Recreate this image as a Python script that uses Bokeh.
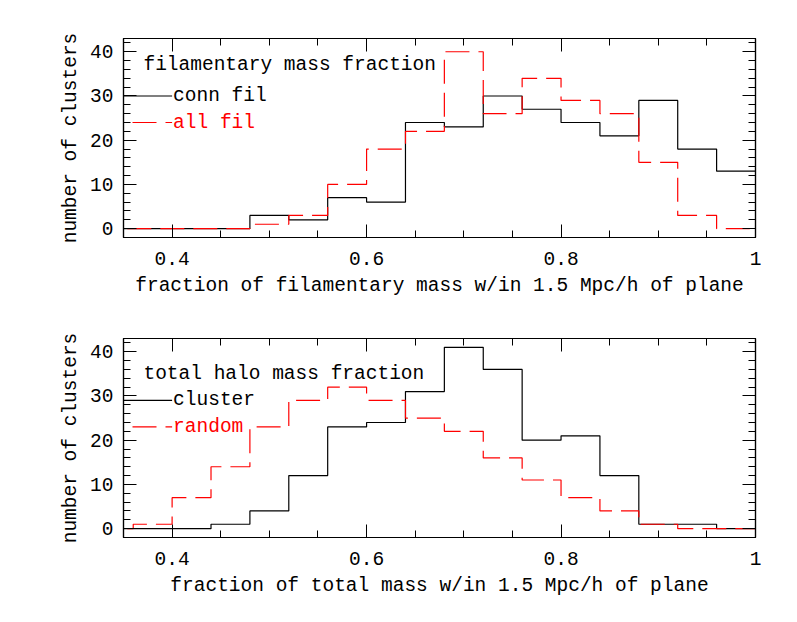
from bokeh.plotting import figure
from bokeh.layouts import column
from bokeh.models import FixedTicker, LinearAxis, Label, Arrow, Range1d
from bokeh.embed import file_html
from bokeh.resources import INLINE

# ---------------- data ----------------
bin_left = [0.32, 0.36, 0.40, 0.44, 0.48, 0.52, 0.56, 0.60, 0.64,
            0.68, 0.72, 0.76, 0.80, 0.84, 0.88, 0.92, 0.96]
bin_end = 1.0

conn_fil = [0, 0, 0, 0, 3, 2, 7, 6, 24, 23, 30, 27, 24, 21, 29, 18, 13]
all_fil = [0, 0, 0, 0, 1, 3, 10, 18, 22, 40, 26, 34, 29, 26, 15, 3, 0]
cluster = [0, 0, 0, 1, 4, 12, 23, 24, 31, 41, 36, 20, 21, 12, 1, 1, 0]
random_halo = [0, 1, 7, 14, 23, 29, 32, 29, 25, 22, 16, 11, 7, 4, 1, 0, 0]

x_tick_values = [0.4, 0.6, 0.8, 1.0]
x_tick_labels = ["0.4", "0.6", "0.8", "1"]
y_tick_values = [0, 10, 20, 30, 40]
y_tick_labels = ["0", "10", "20", "30", "40"]

top_xlabel = "fraction of filamentary mass w/in 1.5 Mpc/h of plane"
bot_xlabel = "fraction of total mass w/in 1.5 Mpc/h of plane"
ylabel = "number of clusters"

top_title = "filamentary mass fraction"
top_names = ["conn fil", "all fil"]
bot_title = "total halo mass fraction"
bot_names = ["cluster", "random"]

FONT = "Liberation Mono"
FS = "19.5px"
RED = "#ff0000"
DASH = "24 9"


def step_xy(vals):
    xs = list(bin_left) + [bin_end]
    ys = list(vals) + [vals[-1]]
    return xs, ys


def make_panel(xlabel, series_black, series_red, title, names, title_y, item_y, top_border):
    p = figure(x_range=Range1d(0.35, 1.0), y_range=Range1d(-2, 43),
               frame_width=632, frame_height=199,
               min_border_left=123, min_border_right=34,
               min_border_top=top_border, min_border_bottom=71,
               output_backend="svg", toolbar_location=None,
               x_axis_label=xlabel, y_axis_label=ylabel)
    p.xgrid.visible = False
    p.ygrid.visible = False
    p.outline_line_color = "black"
    p.outline_line_width = 1.2
    p.background_fill_color = "white"
    p.border_fill_color = "white"

    x_minor = [round(0.35 + 0.05 * i, 2) for i in range(14)]
    y_minor = list(range(-2, 43, 2))
    xt = FixedTicker(ticks=x_tick_values, minor_ticks=x_minor)
    yt = FixedTicker(ticks=y_tick_values, minor_ticks=y_minor)

    def style(ax, show):
        ax.axis_line_color = "black"
        ax.axis_line_width = 1.2
        ax.major_tick_in = 13
        ax.major_tick_out = 0
        ax.minor_tick_in = 7
        ax.minor_tick_out = 0
        ax.major_tick_line_color = "black"
        ax.minor_tick_line_color = "black"
        ax.major_tick_line_width = 1
        ax.minor_tick_line_width = 1
        if show:
            ax.major_label_text_font = FONT
            ax.major_label_text_font_size = FS
            ax.major_label_text_color = "black"
            ax.axis_label_text_font = FONT
            ax.axis_label_text_font_size = FS
            ax.axis_label_text_font_style = "normal"
            ax.axis_label_text_color = "black"
        else:
            ax.major_label_text_font_size = "1px"
            ax.major_label_text_color = None
            ax.axis_label = None

    xa = p.xaxis[0]
    xa.ticker = xt
    xa.major_label_overrides = {v: l for v, l in zip(x_tick_values, x_tick_labels)}
    style(xa, True)
    xa.major_label_standoff = 14
    xa.axis_label_standoff = 7

    ya = p.yaxis[0]
    ya.ticker = yt
    ya.major_label_overrides = {v: l for v, l in zip(y_tick_values, y_tick_labels)}
    style(ya, True)
    ya.major_label_standoff = 10
    ya.axis_label_standoff = 5

    ra = LinearAxis(ticker=FixedTicker(ticks=y_tick_values, minor_ticks=y_minor))
    style(ra, False)
    p.add_layout(ra, "right")
    aa = LinearAxis(ticker=FixedTicker(ticks=x_tick_values, minor_ticks=x_minor))
    style(aa, False)
    p.add_layout(aa, "above")

    bx, by = step_xy(series_black)
    p.step(bx, by, mode="after", line_color="black", line_width=1.2)
    rx, ry = step_xy(series_red)
    p.step(rx, ry, mode="after", line_color=RED, line_width=1.2, line_dash=DASH)

    # legend
    p.add_layout(Label(x=0.3705, y=title_y, text=title, text_font=FONT,
                       text_font_size=FS, text_color="black",
                       text_baseline="alphabetic", text_align="left"))
    p.add_layout(Arrow(end=None, x_start=0.35, y_start=item_y[0], x_end=0.40,
                       y_end=item_y[0], line_color="black", line_width=1.2))
    p.add_layout(Label(x=0.401, y=item_y[0], text=names[0], text_font=FONT,
                       text_font_size=FS, text_color="black",
                       text_baseline="alphabetic", text_align="left"))
    p.add_layout(Arrow(end=None, x_start=0.35, y_start=item_y[1], x_end=0.40,
                       y_end=item_y[1], line_color=RED, line_width=1.2,
                       line_dash=DASH, line_dash_offset=24))
    p.add_layout(Label(x=0.401, y=item_y[1], text=names[1], text_font=FONT,
                       text_font_size=FS, text_color=RED,
                       text_baseline="alphabetic", text_align="left"))
    return p


p1 = make_panel(top_xlabel, conn_fil, all_fil, top_title, top_names, 37, [30, 24], 38)
p2 = make_panel(bot_xlabel, cluster, random_halo, bot_title, bot_names, 35, [29, 23], 30)

layout = column(p1, p2, spacing=0)
open("out.html", "w").write(file_html(layout, INLINE))
